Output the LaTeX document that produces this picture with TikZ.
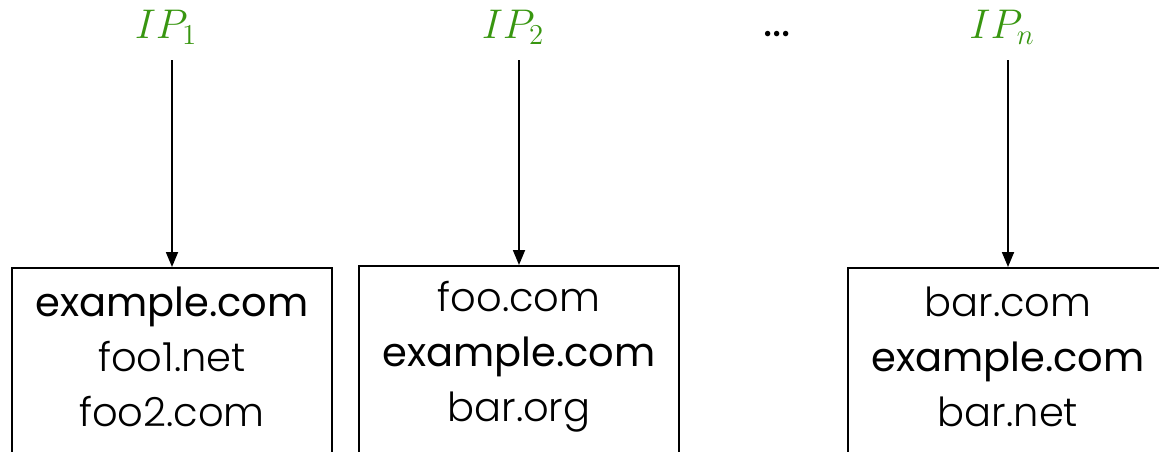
\documentclass[tikz,border=0pt]{standalone}
\usepackage{fontspec}
\setmainfont{Poppins}[UprightFont=* Light, BoldFont=* Regular]
\usepackage{xcolor}
\usepackage{tikz}
\usetikzlibrary{arrows.meta}

\definecolor{ipgreen}{RGB}{56,150,16}

\begin{document}
\begin{tikzpicture}[x=0.5pt, y=-0.5pt, >={Triangle[length=7.5pt,width=6pt]},
  hostbox/.style={draw, line width=1.2pt, anchor=north, minimum width=160pt, minimum height=110pt},
  hostlist/.style={align=center, font=\fontsize{20}{27.5}\selectfont, inner sep=0pt},
  iplabel/.style={text=ipgreen, font=\fontsize{22}{26}\selectfont, inner sep=0pt}]
\clip (0,0) rectangle (1159,451);
% addresses on top
\node[iplabel] (ip1) at (166,27) {$IP_1$};
\node[iplabel] (ip2) at (513,27) {$IP_2$};
\node[font=\fontsize{22}{26}\selectfont\bfseries, inner sep=0pt] (dots) at (777,34) {...};
\node[iplabel] (ipn) at (1002,27) {$IP_n$};
% host name lists
\node[hostbox] (box1) at (172,267) {};
\node[hostbox] (box2) at (519,265) {};
\node[hostbox] (boxn) at (1008,267) {};
\node[hostlist] (list1) at (172,357) {\textbf{example.com}\\foo1.net\\foo2.com};
\node[hostlist] (list2) at (519,357) {foo.com\\\textbf{example.com}\\bar.org};
\node[hostlist] (listn) at (1008,357) {bar.com\\\textbf{example.com}\\bar.net};
\draw[->, line width=0.9pt] (172,60) -- (box1.north);
\draw[->, line width=0.9pt] (519,60) -- (box2.north);
\draw[->, line width=0.9pt] (1008,60) -- (boxn.north);
\end{tikzpicture}
\end{document}
